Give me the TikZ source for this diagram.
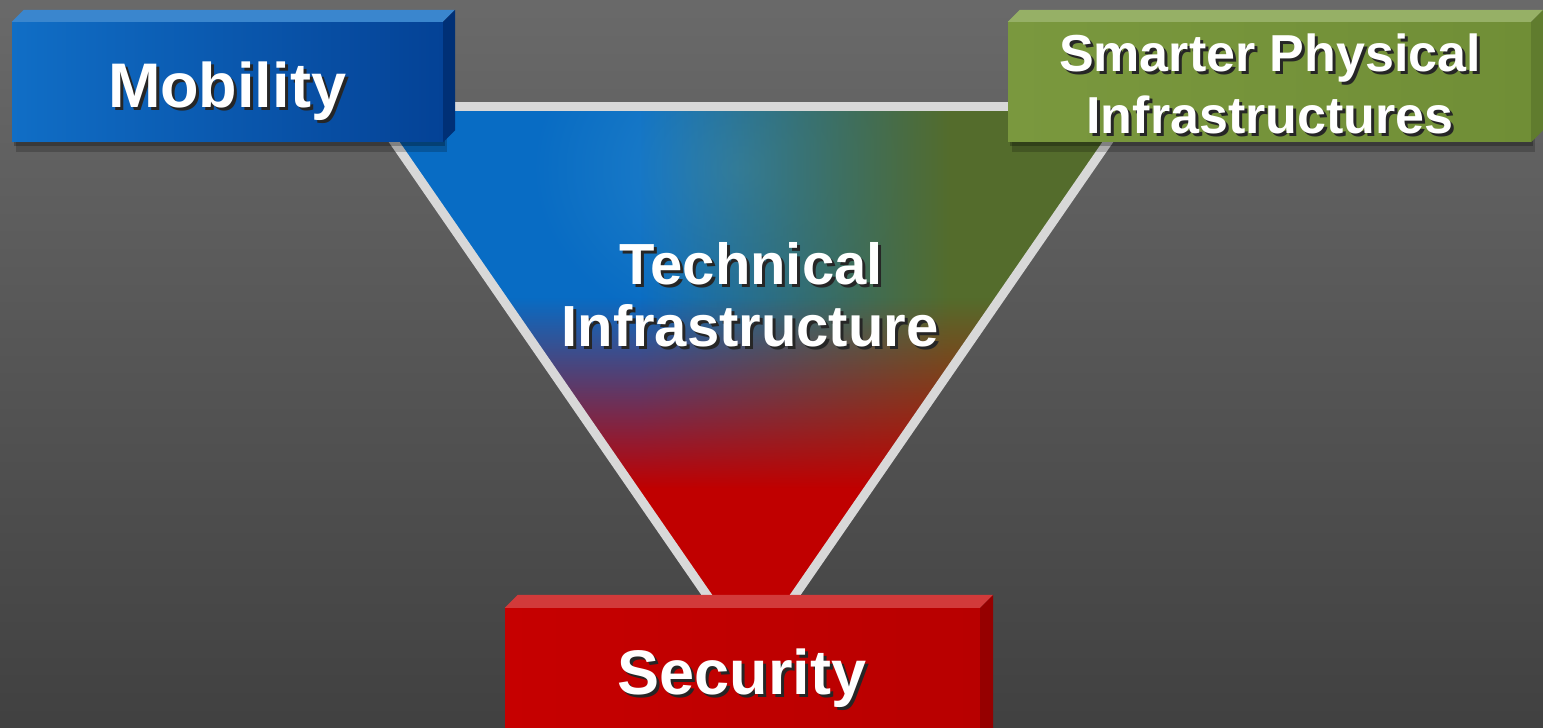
\documentclass[tikz,border=0pt]{standalone}
\usepackage{fontspec}
\setmainfont{Liberation Sans}
\usepackage{tikz}
\usetikzlibrary{fadings,shadows}
\definecolor{bgtop}{RGB}{126,126,126}
\definecolor{bgbottom}{RGB}{44,44,44}
\definecolor{mobblue}{RGB}{16,110,198}
\definecolor{mobbluedark}{RGB}{4,66,150}
\definecolor{mobbluetop}{RGB}{58,134,206}
\definecolor{mobblueside}{RGB}{0,48,118}
\definecolor{phygreen}{RGB}{122,152,62}
\definecolor{phygreendark}{RGB}{112,142,54}
\definecolor{phygreentop}{RGB}{150,176,102}
\definecolor{phygreenside}{RGB}{96,124,46}
\definecolor{secred}{RGB}{198,0,0}
\definecolor{secreddark}{RGB}{184,0,0}
\definecolor{secredtop}{RGB}{210,58,58}
\definecolor{secredside}{RGB}{150,0,0}
\definecolor{triblue}{RGB}{8,108,196}
\definecolor{trigreen}{RGB}{84,108,44}
\definecolor{trired}{RGB}{192,0,0}
\definecolor{triglow}{RGB}{60,150,205}
\definecolor{framegray}{RGB}{216,216,216}
\tikzfading[name=fadeeast, left color=transparent!100, right color=transparent!0]
\tikzfading[name=fadesouth, top color=transparent!100, bottom color=transparent!0]
\tikzfading[name=fadeglow, inner color=transparent!45, outer color=transparent!100]
\newcommand{\shtxt}[1]{\makebox[0pt][l]{\raisebox{-3pt}{\kern3pt\color{black!85}#1}}#1}
\tikzstyle{facebox} = [rectangle, inner sep=0pt,
  drop shadow={shadow xshift=2pt, shadow yshift=-4pt, opacity=0.25, fill=black},
  drop shadow={shadow xshift=4pt, shadow yshift=-10pt, opacity=0.2, fill=black}]
\tikzstyle{boxtext} = [text=white, font=\bfseries, inner sep=0pt, anchor=base]
\tikzstyle{triframe} = [draw=framegray, line width=9pt]

\begin{document}
\begin{tikzpicture}[x=1pt, y=1pt]

\clip (0,0) rectangle (1543,728);
% background
\shade[top color=bgtop, bottom color=bgbottom] (0,-364) rectangle (1543,1092);

% triangle ================================
\coordinate (tl) at (370,621);
\coordinate (tr) at (1132,621);
\coordinate (apex) at (751,69);

\begin{scope}
\clip (tl) -- (tr) -- (apex) -- cycle;
\fill[triblue] (tl) -- (tr) -- (apex) -- cycle;
\fill[triglow, path fading=fadeglow] (740,560) ellipse (210 and 170);
\fill[trigreen, path fading=fadeeast] (640,60) rectangle (950,630);
\fill[trigreen] (950,60) rectangle (1140,630);
\fill[trired, path fading=fadesouth] (360,240) rectangle (1140,430);
\fill[trired] (360,60) rectangle (1140,240);
\end{scope}

\draw[triframe] (tl) -- (tr);
\draw[triframe] (tl) -- (apex);
\draw[triframe] (tr) -- (apex);

% boxes ===================================

% mobility
\node[facebox, fill=mobblue, minimum width=431pt, minimum height=120pt,
  path picture={\shade[left color=mobblue, right color=mobbluedark] (path picture bounding box.south west) rectangle (path picture bounding box.north east);}] (mobility) at (227.5,646) {};
\fill[mobbluetop] (mobility.north west) -- ++(12,12) -- ([shift={(12,12)}]mobility.north east) -- (mobility.north east) -- cycle;
\fill[mobblueside] (mobility.north east) -- ++(12,12) -- ([shift={(12,12)}]mobility.south east) -- (mobility.south east) -- cycle;

% physical
\node[facebox, fill=phygreen, minimum width=523pt, minimum height=120pt,
  path picture={\shade[left color=phygreen, right color=phygreendark] (path picture bounding box.south west) rectangle (path picture bounding box.north east);}] (physical) at (1269.5,646) {};
\fill[phygreentop] (physical.north west) -- ++(12,12) -- ([shift={(12,12)}]physical.north east) -- (physical.north east) -- cycle;
\fill[phygreenside] (physical.north east) -- ++(12,12) -- ([shift={(12,12)}]physical.south east) -- (physical.south east) -- cycle;

% security
\node[facebox, fill=secred, minimum width=475pt, minimum height=150pt,
  path picture={\shade[left color=secred, right color=secreddark] (path picture bounding box.south west) rectangle (path picture bounding box.north east);}] (security) at (742.5,45) {};
\fill[secredtop] (security.north west) -- ++(13,13) -- ([shift={(13,13)}]security.north east) -- (security.north east) -- cycle;
\fill[secredside] (security.north east) -- ++(13,13) -- ([shift={(13,13)}]security.south east) -- (security.south east) -- cycle;

% labels ==================================
\node[boxtext, font=\bfseries\fontsize{63}{63}\selectfont] (mobilitytext) at (227,620) {\shtxt{Mobility}};
\node[boxtext, font=\bfseries\fontsize{52}{52}\selectfont] (smartertext) at (1270,656) {\shtxt{Smarter Physical}};
\node[boxtext, font=\bfseries\fontsize{52}{52}\selectfont] (infrastext) at (1270,594) {\shtxt{Infrastructures}};
\node[boxtext, font=\bfseries\fontsize{58}{58}\selectfont] (techtext) at (751,443) {\shtxt{Technical}};
\node[boxtext, font=\bfseries\fontsize{58}{58}\selectfont] (infratext) at (750,381) {\shtxt{Infrastructure}};
\node[boxtext, font=\bfseries\fontsize{63}{63}\selectfont] (securitytext) at (742,33) {\shtxt{Security}};

\end{tikzpicture}
\end{document}
